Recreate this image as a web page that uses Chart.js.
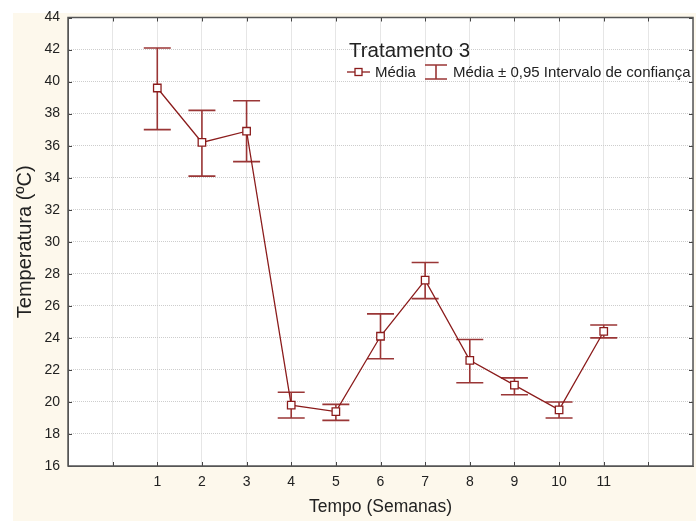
<!DOCTYPE html>
<html>
<head>
<meta charset="utf-8">
<script src="https://cdn.jsdelivr.net/npm/chart.js@4"></script>
<style>
  html, body { margin: 0; padding: 0; background: #ffffff; overflow: hidden; }
  #wrap { width: 696px; height: 521px; }
</style>
</head>
<body>
<div id="wrap"><canvas id="myChart" width="696" height="521"></canvas></div>
<script>
var semanas = [1, 2, 3, 4, 5, 6, 7, 8, 9, 10, 11];
var media = [39.6, 36.2, 36.9, 19.8, 19.4, 24.1, 27.6, 22.6, 21.05, 19.5, 24.4];
var icSup = [42.1, 38.2, 38.8, 20.6, 19.85, 25.5, 28.7, 23.9, 21.5, 20.0, 24.8];
var icInf = [37.0, 34.1, 35.0, 19.0, 18.85, 22.7, 26.45, 21.2, 20.45, 19.0, 24.0];
var yTicks = [16, 18, 20, 22, 24, 26, 28, 30, 32, 34, 36, 38, 40, 42, 44];

var lineColor = "#8b1c1c";
var barColor = "#9a3636";
var gridColor = "#cdcdcd";
var fontName = "'Liberation Sans', Arial, sans-serif";

var pontos = semanas.map(function (s, i) { return { x: s, y: media[i] }; });

var fundo = {
  id: "fundo",
  beforeDraw: function (chart) {
    var ctx = chart.ctx;
    ctx.save();
    ctx.fillStyle = "#ffffff";
    ctx.fillRect(0, 0, chart.width, chart.height);
    ctx.fillStyle = "#fdf8ec";
    ctx.fillRect(13, 13, chart.width - 13, chart.height - 13);
    var a = chart.chartArea;
    ctx.fillStyle = "#ffffff";
    ctx.fillRect(a.left, a.top, a.right - a.left, a.bottom - a.top);
    ctx.restore();
  }
};

var barras = {
  id: "barras",
  beforeDatasetsDraw: function (chart) {
    var ctx = chart.ctx;
    var xs = chart.scales.x, ys = chart.scales.y;
    ctx.save();
    ctx.strokeStyle = barColor;
    ctx.lineWidth = 1.6;
    semanas.forEach(function (s, i) {
      var px = xs.getPixelForValue(s);
      var pt = ys.getPixelForValue(icSup[i]);
      var pb = ys.getPixelForValue(icInf[i]);
      ctx.beginPath();
      ctx.moveTo(px, pt); ctx.lineTo(px, pb);
      ctx.moveTo(px - 13.5, pt); ctx.lineTo(px + 13.5, pt);
      ctx.moveTo(px - 13.5, pb); ctx.lineTo(px + 13.5, pb);
      ctx.stroke();
    });
    ctx.restore();
  },
  afterDraw: function (chart) {
    var ctx = chart.ctx;
    var a = chart.chartArea;
    var xs = chart.scales.x, ys = chart.scales.y;
    ctx.save();
    // marcas internas
    ctx.strokeStyle = "#444";
    ctx.lineWidth = 1;
    ctx.beginPath();
    for (var v = 0; v <= 12; v++) {
      var px = Math.round(xs.getPixelForValue(v)) + 0.5;
      ctx.moveTo(px, a.top); ctx.lineTo(px, a.top + 4);
      ctx.moveTo(px, a.bottom); ctx.lineTo(px, a.bottom - 4);
    }
    yTicks.forEach(function (t) {
      var py = Math.round(ys.getPixelForValue(t)) + 0.5;
      ctx.moveTo(a.left, py); ctx.lineTo(a.left + 4, py);
      ctx.moveTo(a.right, py); ctx.lineTo(a.right - 4, py);
    });
    ctx.stroke();
    // borda
    ctx.strokeStyle = "#555";
    ctx.lineWidth = 1.5;
    ctx.strokeRect(a.left, a.top, a.right - a.left, a.bottom - a.top);

    // legenda
    ctx.fillStyle = "#222";
    ctx.textBaseline = "alphabetic";
    ctx.font = "20.5px " + fontName;
    ctx.fillText("Tratamento 3", 349, 57);
    ctx.strokeStyle = lineColor;
    ctx.lineWidth = 1.3;
    ctx.beginPath();
    ctx.moveTo(347, 72); ctx.lineTo(370, 72);
    ctx.stroke();
    ctx.fillStyle = "#ffffff";
    ctx.fillRect(355, 68.5, 7, 7);
    ctx.strokeRect(355, 68.5, 7, 7);
    ctx.fillStyle = "#222";
    ctx.font = "15px " + fontName;
    ctx.fillText("Média", 375, 77);
    ctx.strokeStyle = barColor;
    ctx.lineWidth = 1.6;
    ctx.beginPath();
    ctx.moveTo(425, 65); ctx.lineTo(447, 65);
    ctx.moveTo(436, 65); ctx.lineTo(436, 79);
    ctx.moveTo(425, 79); ctx.lineTo(447, 79);
    ctx.stroke();
    ctx.fillStyle = "#222";
    ctx.fillText("Média ± 0,95 Intervalo de confiança", 453, 77);
    ctx.restore();
  }
};

new Chart("myChart", {
  type: "line",
  data: {
    datasets: [
      {
        label: "Média",
        data: pontos,
        borderColor: lineColor,
        borderWidth: 1.3,
        pointStyle: "rect",
        pointRadius: 5.3,
        pointBackgroundColor: "#ffffff",
        pointBorderColor: lineColor,
        pointBorderWidth: 1.3,
        tension: 0,
      },
    ],
  },
  options: {
    responsive: false,
    animation: false,
    layout: { autoPadding: false, padding: { top: 17.5, right: 3, left: 0, bottom: 0 } },
    plugins: {
      legend: { display: false },
      tooltip: { enabled: false },
    },
    scales: {
      x: {
        type: "linear",
        min: -1,
        max: 13,
        afterFit: function (s) {
          s.height = 55;
          s.paddingLeft = 0;
          s.paddingRight = 0;
        },
        afterBuildTicks: function (s) {
          var t = [];
          for (var v = -1; v <= 13; v++) t.push({ value: v });
          s.ticks = t;
        },
        grid: {
          color: gridColor,
          lineWidth: 1,
          drawTicks: false,
        },
        border: { display: true, color: "#555", dash: [1, 1] },
        ticks: {
          padding: 8,
          color: "#222",
          font: { family: fontName, size: 14 },
          callback: function (v) { return (v >= 1 && v <= 11) ? v : ""; },
        },
        title: {
          display: true,
          text: "Tempo (Semanas)",
          color: "#222",
          font: { family: fontName, size: 17.5 },
          padding: { top: 0, bottom: 3.5 },
        },
      },
      y: {
        min: 16,
        max: 44,
        afterFit: function (s) {
          s.width = 68;
          s.paddingTop = 0;
          s.paddingBottom = 0;
        },
        afterBuildTicks: function (s) {
          s.ticks = yTicks.map(function (v) { return { value: v }; });
        },
        grid: {
          color: gridColor,
          lineWidth: 1,
          drawTicks: false,
        },
        border: { display: true, color: "#555", dash: [1, 1] },
        ticks: {
          padding: 8,
          color: "#222",
          font: { family: fontName, size: 14 },
        },
        title: {
          display: true,
          text: "Temperatura (ºC)",
          color: "#222",
          font: { family: fontName, size: 20 },
          padding: { top: 13, bottom: 0 },
        },
      },
    },
  },
  plugins: [fundo, barras],
});
</script>
</body>
</html>
